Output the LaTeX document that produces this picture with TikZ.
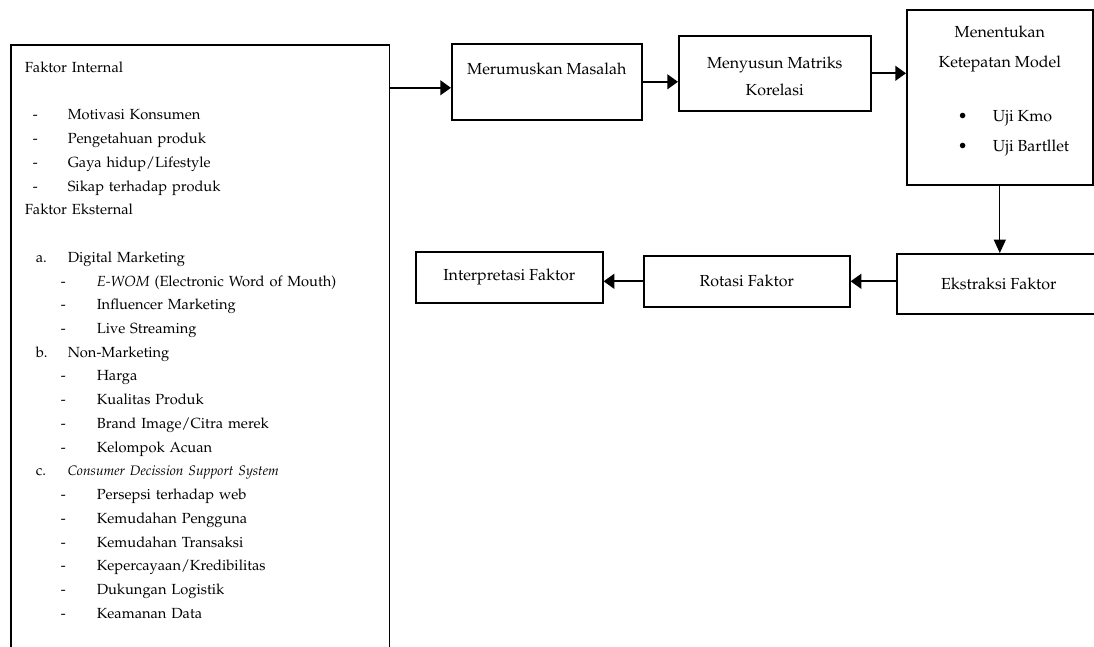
\documentclass[tikz,border=0pt]{standalone}
\usepackage[T1]{fontenc}
\usepackage{mathpazo}
\usepackage{tikz}
\usetikzlibrary{arrows.meta}

% list indents inside the factor box
\newcommand{\lvlone}[1]{\hspace*{6pt}\makebox[26.25pt][l]{-}#1}
\newcommand{\lvltwo}[2]{\hspace*{8.25pt}\makebox[24pt][l]{#1}#2}
\newcommand{\lvlthree}[1]{\hspace*{27pt}\makebox[27pt][l]{-}#1}
\newcommand{\ujiitem}[1]{\makebox[63pt][l]{\makebox[26.25pt][l]{\textbullet}#1}}

\begin{document}
\begin{tikzpicture}[
    x=0.75pt,y=-0.75pt,
    stage/.style={draw,line width=1.2pt,anchor=north west,align=center,inner sep=2pt,font=\fontsize{12}{20}\selectfont},
    listbox/.style={draw,line width=1.2pt,anchor=north west,align=left,inner xsep=10.5pt,inner ysep=12.75pt,font=\fontsize{11}{17.8}\selectfont},
    arr/.style={-{Triangle[length=8pt,width=11pt]},line width=1.5pt},
    darr/.style={-{Triangle[length=10pt,width=9pt]},line width=0.8pt}
  ]
  \useasboundingbox (0,0) rectangle (1094,646);
  \clip (0,0) rectangle (1094,646);

  \node[listbox,text width=263pt] (faktor) at (10,44) {Faktor Internal\\[17.8pt]
    \lvlone{Motivasi Konsumen}\\
    \lvlone{Pengetahuan produk}\\
    \lvlone{Gaya hidup/Lifestyle}\\
    \lvlone{Sikap terhadap produk}\\
    Faktor Eksternal\\[17.8pt]
    \lvltwo{a.}{Digital Marketing}\\
    \lvlthree{\textit{E-WOM} (Electronic Word of Mouth)}\\
    \lvlthree{Influencer Marketing}\\
    \lvlthree{Live Streaming}\\
    \lvltwo{b.}{Non-Marketing}\\
    \lvlthree{Harga}\\
    \lvlthree{Kualitas Produk}\\
    \lvlthree{Brand Image/Citra merek}\\
    \lvlthree{Kelompok Acuan}\\
    \lvltwo{c.}{{\fontsize{10.3}{17.8}\selectfont\itshape Consumer Decission Support System}}\\
    \lvlthree{Persepsi terhadap web}\\
    \lvlthree{Kemudahan Pengguna}\\
    \lvlthree{Kemudahan Transaksi}\\
    \lvlthree{Kepercayaan/Kredibilitas}\\
    \lvlthree{Dukungan Logistik}\\
    \lvlthree{Keamanan Data}\\[30pt]
    \mbox{}};

  \node[stage,minimum width=142.5pt,minimum height=57pt] (merumuskan) at (451,43) {Merumuskan Masalah\\ \mbox{}};
  \node[stage,minimum width=144pt,minimum height=56.25pt] (menyusun) at (678,35) {\rule{0pt}{13pt}Menyusun Matriks\\Korelasi};
  \node[stage,minimum width=139.5pt,minimum height=131.25pt,font=\fontsize{12}{22}\selectfont] (menentukan) at (906,9) {Menentukan\\Ketepatan Model\\[19pt]
    \ujiitem{Uji Kmo}\\
    \ujiitem{Uji Bartllet}\rule[-13pt]{0pt}{13pt}};
  \node[stage,minimum width=153pt,minimum height=45pt] (ekstraksi) at (896,253) {Ekstraksi Faktor};
  \node[stage,minimum width=154.5pt,minimum height=38.25pt] (rotasi) at (643,255) {Rotasi Faktor};
  \node[stage,minimum width=140.25pt,minimum height=38.25pt] (interpretasi) at (415,251) {Interpretasi Faktor};

  \coordinate (inlet) at ([yshift=-4.5pt]merumuskan.west);
  \draw[arr] (faktor.east |- inlet) -- (inlet);
  \draw[arr] (merumuskan.east) -- (merumuskan.east -| menyusun.west);
  \draw[arr] (menyusun.east) -- (menyusun.east -| menentukan.west);
  \draw[darr] (menentukan.south) -- (menentukan.south |- ekstraksi.north);
  \draw[arr] (rotasi.east -| ekstraksi.west) -- (rotasi.east);
  \draw[arr] (rotasi.west) -- (rotasi.west -| interpretasi.east);
\end{tikzpicture}
\end{document}
